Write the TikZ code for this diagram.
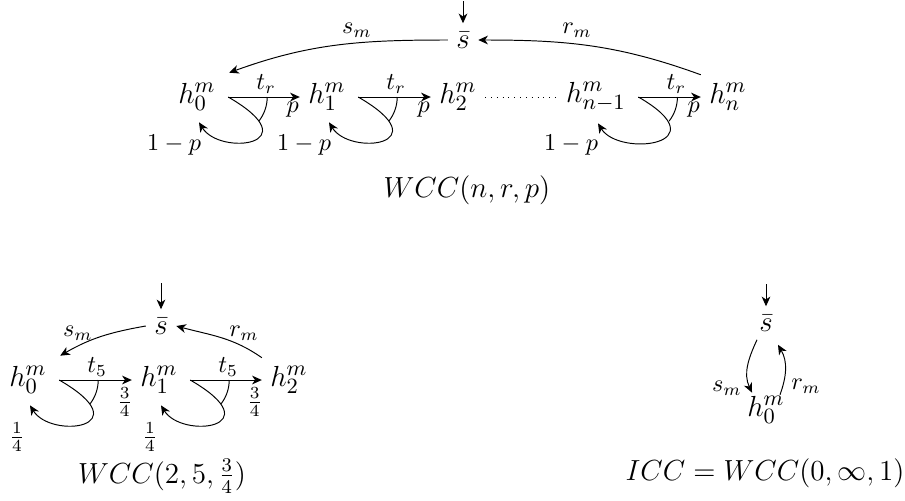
\documentclass[tikz,border=0pt]{standalone}
\usetikzlibrary{arrows.meta,calc}
\newcommand{\probtrans}[8]{%
  \coordinate (b#3) at ($(#1.east)+(4,0)$);
  \coordinate (e#3) at ($(#1.south)+(2,-3)$);
  \draw[->] (b#3) -- (#2.west);
  \draw[->] (b#3) .. controls +(83,-48) and +(21,-34) .. (e#3);
  \draw (b#3) ++(39,0) arc[start angle=0,end angle=-38,radius=16.1pt];
  \node[lbl] (t#3) at ($(b#3)+(38,13)$) {$#4$};
  \node[lbl] (p#3) at ($(#2.west)+(-7,#7)$) {$#5$};
  \node[lbl] (q#3) at ($(#1.center)+(#8)$) {$#6$};
}
\begin{document}
\begin{tikzpicture}[x=0.413pt,y=0.413pt,
  >={Stealth[length=4pt,width=3.6pt,inset=1.2pt]},
  st/.style={font=\fontsize{13}{15}\selectfont, inner sep=3.33pt},
  lbl/.style={font=\normalsize, inner sep=0pt},
  ttl/.style={font=\large, anchor=base, inner sep=0pt}]
\useasboundingbox (0,0) rectangle (905,500);

% ---------- top: WCC(n,r,p)
\node[st] (sb) at (463,460) {$\bar{s}$};
\coordinate (i0) at (463,499);
\draw[->] (i0) -- (sb);
\node[st] (h0) at (197,403) {$h_0^m$};
\node[st] (h1) at (327,403) {$h_1^m$};
\node[st] (h2) at (458,403) {$h_2^m$};
\node[st] (hn1) at (596,403) {$h_{n-1}^m$};
\node[st] (hn) at (728,403) {$h_n^m$};
\draw[dotted] (h2) -- (hn1);
\probtrans{h0}{h1}{a}{t_r}{p}{1-p}{-13}{-23,-48}
\probtrans{h1}{h2}{b}{t_r}{p}{1-p}{-13}{-23,-48}
\probtrans{hn1}{hn}{c}{t_r}{p}{1-p}{-13}{-25,-48}
\coordinate (x0) at ($(h0.north east)+(5,2)$);
\draw[->] (sb.west) to[out=180,in=20] (x0);
\draw[->] (hn.north west) to[out=160,in=0] (sb.east);
\node[lbl] (sm0) at (357,470) {$s_m$};
\node[lbl] (rm0) at (577,470) {$r_m$};
\node[ttl] (w0) at (467,303) {$WCC(n,r,p)$};

% ---------- bottom left: WCC(2,5,3/4)
\node[st] (sb1) at (161,174) {$\bar{s}$};
\coordinate (i1) at (161,217);
\draw[->] (i1) -- (sb1);
\node[st] (g0) at (28,120) {$h_0^m$};
\node[st] (g1) at (159,120) {$h_1^m$};
\node[st] (g2) at (289,120) {$h_2^m$};
\probtrans{g0}{g1}{d}{t_5}{\frac{3}{4}}{\frac{1}{4}}{-22}{-11,-57}
\probtrans{g1}{g2}{f}{t_5}{\frac{3}{4}}{\frac{1}{4}}{-22}{-9,-57}
\coordinate (x1) at ($(g0.north east)+(5,2)$);
\draw[->] (sb1.west) to[out=190,in=30] (x1);
\draw[->] (g2.north west) to[out=145,in=-15] (sb1.east);
\node[lbl] (sm1) at (78,167) {$s_m$};
\node[lbl] (rm1) at (244,167) {$r_m$};
\node[ttl] (w1) at (162,17) {$WCC(2,5,\frac{3}{4})$};

% ---------- bottom right: ICC
\node[st] (sb2) at (766,177) {$\bar{s}$};
\coordinate (i2) at (766,216);
\draw[->] (i2) -- (sb2);
\node[st] (k0) at (766,90) {$h_0^m$};
\coordinate (ys) at ($(sb2.south)+(-9,0)$);
\coordinate (ye) at ($(k0.north)+(-14,-5)$);
\draw[->] (ys) to[out=245,in=115] (ye);
\coordinate (zs) at ($(k0.north)+(14,-7)$);
\coordinate (ze) at ($(sb2.south)+(12,-5)$);
\draw[->] (zs) to[out=70,in=-60] (ze);
\node[lbl] (sm2) at (727,112) {$s_m$};
\node[lbl] (rm2) at (806,114) {$r_m$};
\node[ttl] (w2) at (765,20) {$ICC = WCC(0,\infty,1)$};
\end{tikzpicture}
\end{document}
